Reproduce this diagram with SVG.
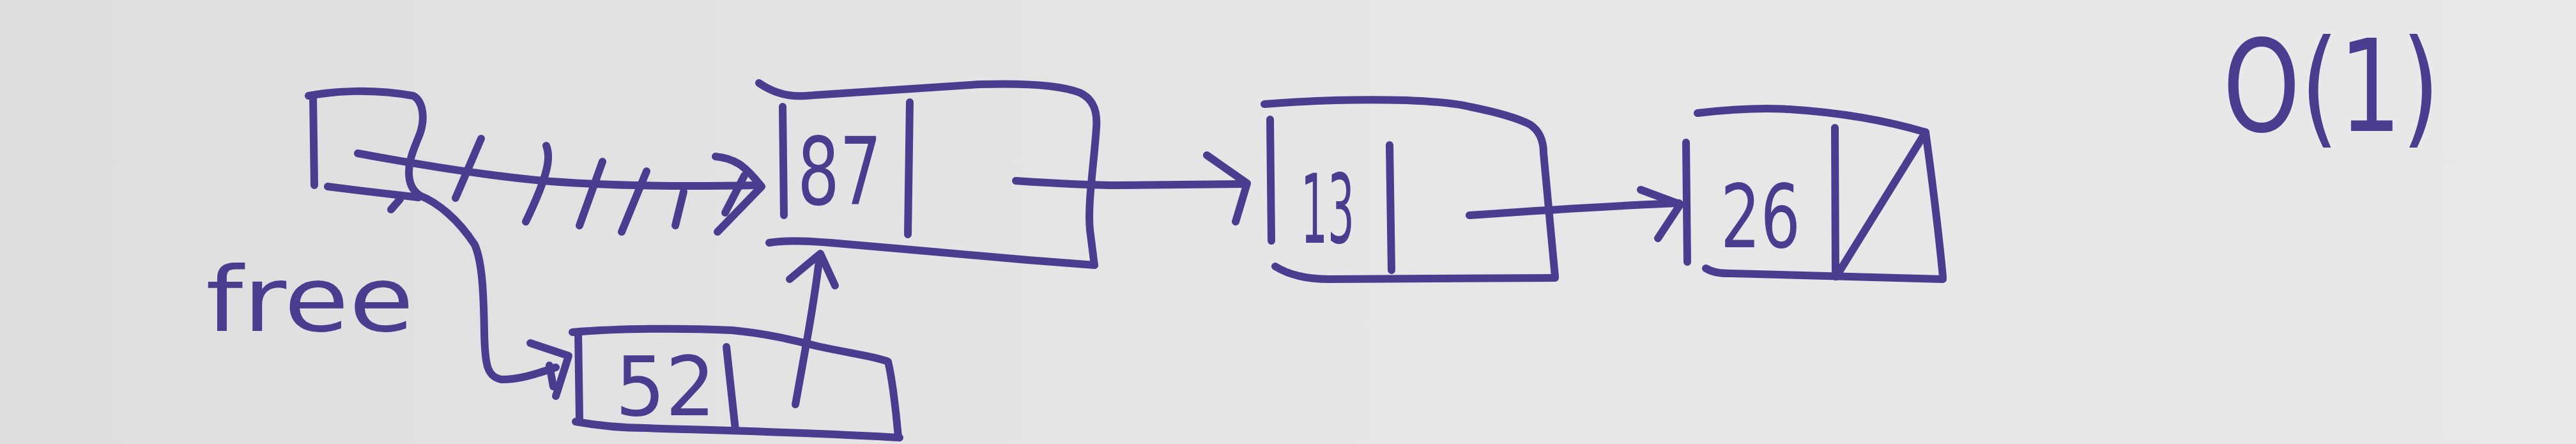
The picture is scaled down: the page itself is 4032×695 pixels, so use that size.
<svg xmlns="http://www.w3.org/2000/svg" width="4032" height="695" viewBox="0 0 4032 695">
<defs>
<linearGradient id="bg" x1="0" y1="0" x2="1" y2="0">
<stop offset="0" stop-color="#dedede"/>
<stop offset="0.5" stop-color="#e6e6e6"/>
<stop offset="1" stop-color="#e9e9e9"/>
</linearGradient>
<style>
.s{fill:none;stroke:#4a3d8f;stroke-width:12;stroke-linecap:round;stroke-linejoin:round}
.t{fill:#4a3d8f;font-family:"DejaVu Sans","Liberation Sans",sans-serif;font-weight:normal}
.c{fill:#4a3d8f;font-family:"DejaVu Sans Condensed","DejaVu Sans","Liberation Sans",sans-serif;font-weight:normal}
</style>
</defs>
<rect x="0" y="0" width="4032" height="695" fill="url(#bg)"/>

<g id="node-free">
<path class="s" d="M490 150 L492 290"/>
<path class="s" d="M483 150 C520 143 580 138 647 150 C662 158 666 185 657 210 C648 232 640 250 640 270 C640 290 648 300 657 306"/>
<path class="s" d="M513 292 C560 298 610 304 655 309"/>
<path class="s" d="M626 312 L612 328"/>
<text class="t" x="322" y="518" font-size="140" textLength="326" lengthAdjust="spacingAndGlyphs">free</text>
</g>

<g id="node-87">
<path class="s" d="M1188 130 C1210 145 1235 152 1260 150 C1330 145 1420 140 1533 132 C1600 130 1660 133 1690 145 C1712 155 1718 175 1716 200 C1712 260 1702 320 1706 360 L1713 415"/>
<path class="s" d="M1204 380 C1230 375 1265 377 1300 380 C1400 388 1520 400 1609 407 L1713 415"/>
<path class="s" d="M1225 167 L1227 337"/>
<path class="s" d="M1424 160 L1421 367"/>
<text class="c" x="1248" y="320" font-size="146" textLength="132" lengthAdjust="spacingAndGlyphs">87</text>
</g>

<g id="node-13">
<path class="s" d="M1979 163 C2040 158 2120 155 2202 157 C2250 159 2280 162 2300 167 C2340 175 2372 183 2395 195 C2410 205 2416 220 2416 240 L2434 433"/>
<path class="s" d="M1988 187 L1990 377"/>
<path class="s" d="M1996 417 C2020 432 2050 437 2080 437 L2434 435"/>
<path class="s" d="M2175 227 L2178 423"/>
<text class="c" x="2036" y="380" font-size="150" textLength="84" lengthAdjust="spacingAndGlyphs">13</text>
</g>

<g id="node-26">
<path class="s" d="M2657 177 C2700 172 2750 168 2800 171 C2880 176 2950 188 3014 207"/>
<path class="s" d="M3014 207 C3024 280 3034 360 3041 433"/>
<path class="s" d="M2639 223 L2641 410"/>
<path class="s" d="M2670 420 C2680 426 2690 428 2710 428 L3041 437"/>
<path class="s" d="M2872 200 L2873 433"/>
<path class="s" d="M2874 433 L3014 207"/>
<text class="c" x="2693" y="387" font-size="138" textLength="125" lengthAdjust="spacingAndGlyphs">26</text>
</g>

<g id="node-52">
<path class="s" d="M905 520 L907 657"/>
<path class="s" d="M896 520 C980 513 1080 514 1146 517 C1200 522 1240 532 1280 542 C1330 553 1370 558 1390 566 C1398 600 1402 640 1406 684"/>
<path class="s" d="M901 660 C940 667 980 670 1012 670 C1100 673 1250 676 1408 685"/>
<path class="s" d="M1137 543 L1151 672"/>
<text class="c" x="963" y="650" font-size="128" textLength="157" lengthAdjust="spacingAndGlyphs">52</text>
</g>

<g id="label-complexity">
<text class="t" x="3479" y="205" font-size="200" textLength="340" lengthAdjust="spacingAndGlyphs">O(1)</text>
</g>

<g id="connectors">
<path class="s" d="M657 306 C685 317 717 343 743 383 C755 410 757 460 758 520 C759 570 762 590 785 594 C815 594 840 585 870 575"/>
<path class="s" d="M830 537 L890 557 L870 620"/>
<path class="s" d="M860 572 L866 605"/>
<path class="s" d="M560 240 C640 255 740 272 840 282 C950 292 1080 292 1185 290"/>
<path class="s" d="M753 217 L713 310"/>
<path class="s" d="M855 228 C862 245 860 270 823 347"/>
<path class="s" d="M943 253 L907 353"/>
<path class="s" d="M1012 268 L973 363"/>
<path class="s" d="M1070 300 L1057 353"/>
<path class="s" d="M1120 245 C1150 248 1165 258 1192 292 L1123 363"/>
<path class="s" d="M1165 275 L1135 333"/>
<path class="s" d="M1245 633 C1260 550 1275 470 1283 400"/>
<path class="s" d="M1236 437 L1284 397 L1307 447"/>
<path class="s" d="M1590 283 C1650 287 1700 290 1750 290 L1945 288"/>
<path class="s" d="M1889 243 L1952 287 L1934 347"/>
<path class="s" d="M2300 337 C2400 330 2520 322 2628 318"/>
<path class="s" d="M2568 297 L2630 320 L2595 373"/>
</g>
</svg>
